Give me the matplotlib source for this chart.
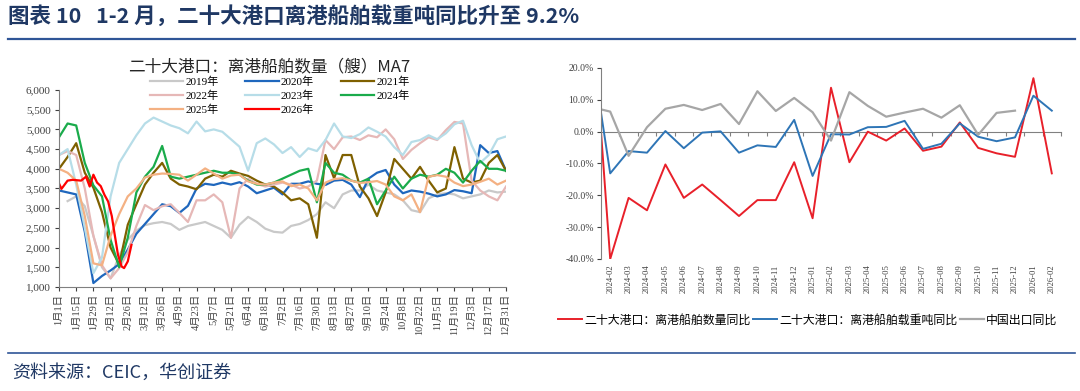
import numpy as np
import matplotlib.pyplot as plt
from matplotlib.lines import Line2D

plt.rcParams['font.family'] = ['Liberation Serif', 'Noto Sans CJK SC']
cjk = ['Noto Sans CJK SC', 'DejaVu Sans']
nan = np.nan

# ---------------- left: 20 ports, departing ships (MA7), by year -------------
days = np.arange(0, 365, 7)
day_ticks = np.arange(0, 365, 14)
day_labels = ['1月1日', '1月15日', '1月29日', '2月12日', '2月26日', '3月12日', '3月26日',
              '4月9日', '4月23日', '5月7日', '5月21日', '6月4日', '6月18日', '7月2日',
              '7月16日', '7月30日', '8月13日', '8月27日', '9月10日', '9月24日', '10月8日',
              '10月22日', '11月5日', '11月19日', '12月3日', '12月17日', '12月31日']

y2019 = [nan, 3180, 3300, 3050, 2300, 1500, 1220, 1800, 2200, 2430, 2570, 2620, 2650, 2600,
         2450, 2550, 2600, 2650, 2550, 2450, 2250, 2580, 2780, 2650, 2480, 2400, 2380, 2550,
         2600, 2700, 2850, 3150, 3000, 3350, 3450, 3450, 3600, 3450, 3400, 3350, 3200, 2950,
         2900, 3250, 3350, 3380, 3350, 3250, 3300, 3350, 3450, 3400, 3420]
y2020 = [3450, 3400, 3350, 2400, 1100, 1280, 1420, 1580, 1950, 2350, 2600, 2850, 3100, 3050,
         2880, 3060, 3500, 3620, 3590, 3650, 3600, 3660, 3550, 3380, 3450, 3520, 3350, 3620,
         3620, 3680, 3620, 3590, 3700, 3720, 3600, 3280, 3750, 3900, 3970, 3600, 3380, 3450,
         3420, 3370, 3300, 3350, 3460, 3430, 3380, 4600, 4400, 4450, 3950]
y2021 = [4000, 4300, 4650, 3900, 3520, 2900, 2000, 1570, 2580, 3100, 3600, 3900, 4150, 3750,
         3600, 3550, 3480, 3750, 3850, 3800, 3950, 3880, 3820, 3700, 3600, 3550, 3400, 3200,
         3250, 3100, 2250, 4350, 3760, 4350, 4350, 3550, 3250, 2800, 3400, 4250, 4000, 3750,
         4050, 3700, 3400, 3500, 4550, 3750, 3650, 3700, 4150, 4350, 3950]
y2022 = [4350, 4450, 4350, 3500, 2300, 1550, 1220, 1480, 1880, 2550, 3080, 2950, 3050, 3100,
         2880, 2650, 3200, 3200, 3350, 3150, 2250, 3500, 3750, 3620, 3550, 3600, 3650, 3600,
         3500, 3550, 3700, 4730, 4500, 4800, 4820, 4730, 4850, 4800, 5000, 4750, 4250, 4480,
         4650, 4800, 4730, 4980, 5190, 5150, 3700, 3450, 3300, 3200, 3550]
y2023 = [4350, 4500, 3600, 2500, 1350, 1750, 3300, 4150, 4500, 4850, 5150, 5300, 5200, 5100,
         5030, 4900, 5200, 4950, 5000, 4940, 4750, 4560, 3950, 4650, 4770, 4620, 4400, 4550,
         4300, 4520, 4450, 4730, 5150, 4820, 4780, 4880, 5050, 4940, 4820, 4550, 4350, 4680,
         4730, 4850, 4750, 4900, 5130, 5220, 4600, 4150, 4350, 4750, 4820]
y2024 = [4800, 5150, 5100, 4150, 3580, 3300, 2200, 1500, 2250, 3400, 3800, 4050, 4580, 3800,
         3750, 3800, 3850, 3900, 3950, 3900, 3900, 3850, 3700, 3600, 3600, 3650, 3750, 3850,
         3950, 4000, 3150, 4150, 3900, 3850, 3700, 3650, 3750, 3100, 3450, 3800, 3500, 3750,
         3850, 3800, 3850, 4000, 3900, 3650, 3950, 4200, 4000, 4000, 3950]
y2025 = [4000, 3900, 3700, 2800, 1600, 1550, 2300, 2850, 3300, 3500, 3780, 3850, 3880, 3870,
         3850, 3700, 3850, 4010, 3880, 3750, 3830, 3850, 3680, 3620, 3600, 3650, 3680, 3560,
         3600, 3500, 3200, 3650, 3740, 3760, 3700, 3640, 3660, 3690, 3600, 3300, 3200, 3350,
         2900, 3800, 3840, 3800, 3650, 3560, 3600, 3670, 3750, 3600, 3700]
days2026 = [0, 2, 7, 11, 18, 22, 25, 28, 31, 34, 37, 40, 43, 45, 48, 51, 53, 56, 59]
y2026 = [3630, 3490, 3700, 3720, 3700, 3800, 3550, 3850, 3650, 3560, 3340, 3170, 2800, 2400,
         1820, 1520, 1480, 1650, 2070]

years = ['2019年', '2020年', '2021年', '2022年', '2023年', '2024年', '2025年', '2026年']
year_colors = ['#c9c9c9', '#1f67bd', '#7f6000', '#e6b8b7', '#b7dde8', '#1aab4b', '#f4b183', '#ff0000']

# ---------------- right: monthly yoy (%) ------------------------------------
months = ['2024-01', '2024-02', '2024-03', '2024-04', '2024-05', '2024-06', '2024-07', '2024-08',
          '2024-09', '2024-10', '2024-11', '2024-12', '2025-01', '2025-02', '2025-03', '2025-04',
          '2025-05', '2025-06', '2025-07', '2025-08', '2025-09', '2025-10', '2025-11', '2025-12',
          '2026-01', '2026-02']
ship_cnt_yoy = [40, -40, -20.8, -24.7, -10.3, -20.8, -16.6, -21.5, -26.5, -21.5, -21.5, -9.6,
                -27.2, 13.8, -9.6, 0.0, -2.8, 1.0, -6.0, -4.7, 2.9, -5.1, -6.8, -7.9, 16.8, -13.1]
ship_dwt_yoy = [25, -13.1, -6.1, -6.6, 0.2, -5.2, -0.3, 0.1, -6.6, -4.3, -4.8, 3.7,
                -13.9, -0.8, -0.9, 1.4, 1.5, 3.4, -5.4, -3.8, 2.6, -1.6, -3.0, -1.8, 11.3, 6.6]
export_yoy = [7.7, 6.3, -7.6, 1.4, 7.2, 8.4, 6.8, 8.7, 2.4, 12.7, 6.5, 10.6,
              6.1, -2.8, 12.4, 8.1, 4.7, 6.0, 7.2, 4.4, 8.3, -1.0, 5.9, 6.6, nan, nan]

fig = plt.figure(figsize=(10.8, 3.91), dpi=100)

# header / footer
fig.text(8 / 1080, 1 - 16 / 391, '图表 10   1-2 月，二十大港口离港船舶载重吨同比升至 9.2%',
         fontsize=15.5, fontweight='bold', color='#1f3864', va='center', family=cjk)
fig.add_artist(Line2D([8 / 1080, 1075 / 1080], [1 - 39 / 391] * 2, color='#2f5597', lw=1.6))
fig.add_artist(Line2D([8 / 1080, 1075 / 1080], [1 - 353 / 391] * 2, color='#2f5597', lw=1.2))
fig.text(12 / 1080, 1 - 373 / 391, '资料来源：CEIC，华创证券', fontsize=13, style='italic',
         color='#1f3864', va='center', family=cjk)

# ---- left chart
ax1 = fig.add_axes([59 / 1080, 1 - 287 / 391, 447 / 1080, 197 / 391])
series = [y2019, y2020, y2021, y2022, y2023, y2024, y2025]
handles = []
for name, vals, col in zip(years[:-1], series, year_colors[:-1]):
    h, = ax1.plot(days, vals, color=col, lw=1.6, label=name)
    handles.append(h)
h, = ax1.plot(days2026, y2026, color=year_colors[-1], lw=1.6, label=years[-1])
handles.append(h)

ax1.set_xlim(0, 364)
ax1.set_ylim(1000, 6000)
ax1.set_yticks(np.arange(1000, 6001, 500))
ax1.set_yticklabels([f'{v:,}' for v in range(1000, 6001, 500)])
ax1.set_xticks(day_ticks)
ax1.set_xticklabels(day_labels, rotation=90)
ax1.tick_params(axis='y', labelsize=8, colors='#404040', length=3, pad=3)
ax1.tick_params(axis='x', labelsize=7.5, colors='#404040', length=3, pad=2)
for s in ['top', 'right']:
    ax1.spines[s].set_visible(False)
for s in ['left', 'bottom']:
    ax1.spines[s].set_color('#808080')

fig.text(269 / 1080, 1 - 67 / 391, '二十大港口：离港船舶数量（艘）MA7', fontsize=12,
         ha='center', va='center', family=cjk, color='#262626')
order = [0, 3, 6, 1, 4, 7, 2, 5]
fig.legend([handles[i] for i in order], [years[i] for i in order], ncol=3, loc='upper left',
           bbox_to_anchor=(150 / 1080, 1 - 77 / 391), frameon=False, fontsize=8,
           handlelength=3.0, handletextpad=0.2, columnspacing=2.4, labelspacing=0.3,
           borderpad=0, borderaxespad=0)

# ---- right chart
ax2 = fig.add_axes([601 / 1080, 1 - 259 / 391, 460 / 1080, 191 / 391])
x = np.arange(len(months))
l1, = ax2.plot(x, ship_cnt_yoy, color='#e8202a', lw=1.4, label='二十大港口：离港船舶数量同比')
l2, = ax2.plot(x, ship_dwt_yoy, color='#2e75b6', lw=1.4, label='二十大港口：离港船舶载重吨同比')
l3, = ax2.plot(x, export_yoy, color='#a6a6a6', lw=1.6, label='中国出口同比')
ax2.set_xlim(0.5, len(months) - 0.5)
ax2.set_ylim(-40, 20)
ax2.set_yticks(np.arange(-40, 21, 10))
ax2.set_yticklabels([f'{v:.1f}%' for v in range(-40, 21, 10)])
ax2.set_xticks(x[1:])
ax2.set_xticklabels(months[1:], rotation=90)
ax2.tick_params(axis='y', labelsize=7, colors='#404040', length=3, pad=2)
ax2.tick_params(axis='x', labelsize=6.2, colors='#404040', length=0, pad=4)
for s in ['top', 'right', 'bottom']:
    ax2.spines[s].set_visible(False)
ax2.spines['left'].set_color('#808080')

zero = ax2.secondary_xaxis(2 / 3)
zero.set_xticks(x[1:] + 0.5)
zero.set_xticklabels([])
zero.tick_params(direction='in', length=3, color='#808080')
for s in zero.spines.values():
    s.set_color('#808080')

fig.legend([l1, l2, l3], [l1.get_label(), l2.get_label(), l3.get_label()], ncol=3,
           loc='center left', bbox_to_anchor=(558 / 1080, 1 - 320 / 391), frameon=False,
           prop={'family': cjk, 'size': 8.6}, handlelength=2.0, handletextpad=0.2,
           columnspacing=0.2, borderpad=0, borderaxespad=0)

fig.savefig('out.png', dpi=100)
